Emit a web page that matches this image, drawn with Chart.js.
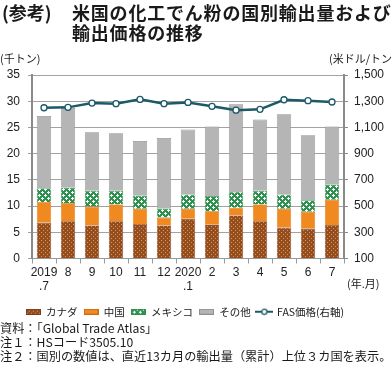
<!DOCTYPE html>
<html><head><meta charset="utf-8">
<script src="https://cdn.jsdelivr.net/npm/chart.js@4.4.1/dist/chart.umd.min.js"></script>
<style>
html,body{margin:0;padding:0;background:#fff;}
#wrap{position:relative;width:392px;height:369px;overflow:hidden;font-family:"Noto Sans CJK JP","Noto Sans",sans-serif;color:#1a1a1a;}
#c{position:absolute;left:0;top:0;}
.t{position:absolute;white-space:nowrap;}
.ttl{font-size:18px;font-weight:bold;line-height:20px;}
.sm{font-size:11px;line-height:12px;}
.fn{font-size:12.2px;line-height:13px;left:0;}
</style></head><body>
<div id="wrap">
<canvas id="c" width="392" height="369" style="width:392px;height:369px"></canvas>
<div class="t ttl" style="left:2px;top:2px;">(参考)</div>
<div class="t ttl" style="left:72px;top:2px;letter-spacing:0.8px;">米国の化工でん粉の国別輸出量および</div>
<div class="t ttl" style="left:72px;top:22px;letter-spacing:0.8px;">輸出価格の推移</div>
<div class="t sm" style="left:0px;top:52px;">(千トン)</div>
<div class="t sm" style="left:329px;top:52px;">(米ドル/トン)</div>
<div class="t sm" style="left:347px;top:277px;">(年.月)</div>
<div class="t fn" style="top:322px;">資料：「Global Trade Atlas」</div>
<div class="t fn" style="top:336px;">注１：HSコード3505.10</div>
<div class="t fn" style="top:350px;">注２：国別の数値は、直近13カ月の輸出量（累計）上位３カ国を表示。</div>
</div>
<script>
const categories = [['2019','.7'],'8','9','10','11','12',['2020','.1'],'2','3','4','5','6','7'];
const canada = [6.8, 7.1, 6.3, 7.1, 6.6, 6.3, 7.6, 6.5, 8.2, 7.1, 5.9, 5.7, 6.4];
const china  = [4.0, 3.5, 3.6, 3.2, 2.9, 1.5, 1.9, 2.5, 1.5, 3.2, 3.6, 3.2, 4.8];
const mexico = [2.6, 2.9, 3.0, 2.6, 2.5, 1.7, 2.7, 2.9, 3.0, 2.6, 2.7, 2.2, 2.9];
const others = [13.8, 15.2, 11.2, 11.0, 10.4, 13.5, 12.4, 13.3, 16.7, 13.6, 15.3, 12.4, 11.1];
const fasPrice = [1250, 1253, 1286, 1281, 1314, 1281, 1291, 1261, 1232, 1238, 1311, 1304, 1294];
const leftTicks = [0, 5, 10, 15, 20, 25, 30, 35];
const rightTicks = [100, 300, 500, 700, 900, 1100, 1300, 1500];
const seriesNames = ['カナダ', '中国', 'メキシコ', 'その他', 'FAS価格(右軸)'];

function makePattern(w, h, draw) {
  const cv = document.createElement('canvas');
  cv.width = w; cv.height = h;
  const cx = cv.getContext('2d');
  draw(cx);
  return cx.createPattern(cv, 'repeat');
}
const canadaFill = makePattern(4, 4, cx => {
  cx.fillStyle = '#934d1f'; cx.fillRect(0, 0, 4, 4);
  cx.fillStyle = '#d8955a'; cx.fillRect(1, 0, 1, 1); cx.fillRect(3, 2, 1, 1);
});
const mexicoFill = makePattern(6, 6, cx => {
  cx.fillStyle = '#2f9150'; cx.fillRect(0, 0, 6, 6);
  cx.fillStyle = '#ffffff';
  [[3,2],[2,3],[3,3],[4,3],[3,4],[0,0],[1,0],[5,0],[0,1],[0,5]].forEach(p => cx.fillRect(p[0], p[1], 1, 1));
});
const chinaFill = '#f0891f';
const otherFill = '#b5b5b5';
const lineColor = '#1b5a66';

function swatch(fill, border) {
  const cv = document.createElement('canvas');
  cv.width = 15; cv.height = 6;
  const cx = cv.getContext('2d');
  cx.fillStyle = fill; cx.fillRect(0, 0, 15, 6);
  cx.strokeStyle = border; cx.lineWidth = 1; cx.strokeRect(0.5, 0.5, 14, 5);
  return cv;
}
function lineSwatch() {
  const cv = document.createElement('canvas');
  cv.width = 18; cv.height = 8;
  const cx = cv.getContext('2d');
  cx.strokeStyle = lineColor; cx.lineWidth = 2;
  cx.beginPath(); cx.moveTo(0, 4); cx.lineTo(18, 4); cx.stroke();
  cx.fillStyle = '#fff'; cx.lineWidth = 1.3;
  cx.beginPath(); cx.arc(9, 4, 2.6, 0, Math.PI * 2); cx.fill(); cx.stroke();
  return cv;
}
const legendIcons = [swatch(canadaFill, '#7a3f18'), swatch(chinaFill, '#c86a10'), swatch(mexicoFill, '#2f9050'), swatch(otherFill, '#909090'), lineSwatch()];

const tickFont = {family: '"Liberation Sans", Arial, sans-serif', size: 12};

const shiftLegend = {
  id: 'shiftLegend',
  afterLayout(chart) { if (chart.legend) { chart.legend.right -= 22; } }
};

new Chart(document.getElementById('c'), {
  data: {
    labels: categories,
    datasets: [
      {type: 'bar', label: seriesNames[0], data: canada, backgroundColor: canadaFill, borderColor: '#7a3f18', borderWidth: 0.6, stack: 's', yAxisID: 'y', order: 2},
      {type: 'bar', label: seriesNames[1], data: china, backgroundColor: chinaFill, borderColor: '#c86a10', borderWidth: 0.6, stack: 's', yAxisID: 'y', order: 2},
      {type: 'bar', label: seriesNames[2], data: mexico, backgroundColor: mexicoFill, borderColor: '#3f9a5c', borderWidth: 0.6, stack: 's', yAxisID: 'y', order: 2},
      {type: 'bar', label: seriesNames[3], data: others, backgroundColor: otherFill, borderColor: '#8e8e8e', borderWidth: 0.8, stack: 's', yAxisID: 'y', order: 2},
      {type: 'line', label: seriesNames[4], data: fasPrice, borderColor: lineColor, borderWidth: 2.5, pointRadius: 3, pointBackgroundColor: '#fff', pointBorderColor: lineColor, pointBorderWidth: 1.3, yAxisID: 'y2', order: 1, tension: 0}
    ]
  },
  plugins: [shiftLegend],
  options: {
    responsive: false, animation: false,
    layout: {padding: {top: 75, left: 0, right: 0, bottom: 42}},
    datasets: {bar: {categoryPercentage: 0.6, barPercentage: 1}},
    plugins: {
      tooltip: {enabled: false},
      legend: {
        position: 'bottom',
        labels: {
          usePointStyle: true, pointStyleWidth: 15, padding: 6,
          font: {family: '"Noto Sans CJK JP", sans-serif', size: 10.5}, color: '#1a1a1a',
          generateLabels(chart) {
            return chart.data.datasets.map((d, i) => ({
              text: d.label, pointStyle: legendIcons[i], fillStyle: 'transparent', strokeStyle: 'transparent', lineWidth: 0, hidden: false, datasetIndex: i, fontColor: '#1a1a1a'
            }));
          }
        }
      }
    },
    scales: {
      x: {
        stacked: true,
        grid: {offset: true, drawOnChartArea: false, drawTicks: true, tickLength: 5, color: '#999'},
        border: {color: '#999', width: 1},
        ticks: {font: tickFont, color: '#222', maxRotation: 0, autoSkip: false, padding: 2},
        afterFit(s) { s.height = 42; }
      },
      y: {
        stacked: true, min: 0, max: 35, position: 'left',
        afterBuildTicks(s) { s.ticks = leftTicks.map(v => ({value: v})); },
        grid: {color: '#a3a3a3', lineWidth: 1, tickLength: 4},
        border: {color: '#8a8a8a', width: 2},
        ticks: {font: tickFont, color: '#222', padding: 8},
        afterFit(s) { s.width = 32; }
      },
      y2: {
        min: 100, max: 1500, position: 'right',
        afterBuildTicks(s) { s.ticks = rightTicks.map(v => ({value: v})); },
        grid: {drawOnChartArea: false, tickLength: 4, color: '#8a8a8a'},
        border: {color: '#8a8a8a', width: 2},
        ticks: {font: tickFont, color: '#222', padding: 6, callback: v => v.toLocaleString('en-US')},
        afterFit(s) { s.width = 48; }
      }
    }
  }
});
</script>
</body></html>
